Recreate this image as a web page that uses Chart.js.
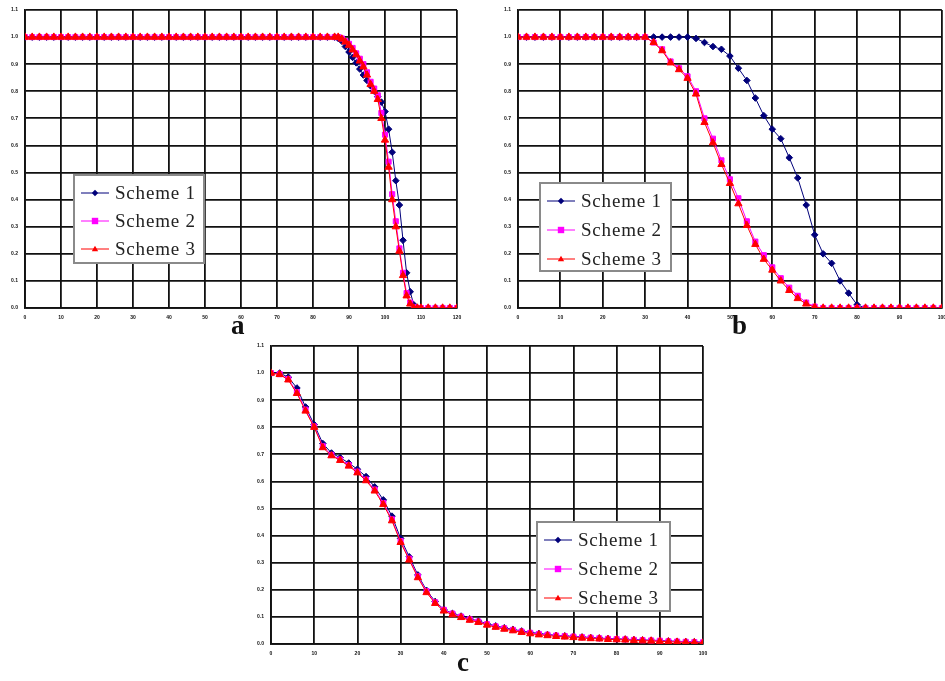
<!DOCTYPE html>
<html lang="en">
<head>
  <meta charset="UTF-8">
  <title>Scheme comparison</title>
  <script src="https://cdn.jsdelivr.net/npm/chart.js"></script>
  <style>
    body { margin: 0; background: white; width: 945px; height: 681px; overflow: hidden; position: relative; }
    .box { position: absolute; }
    .tag { position: absolute; font-family: 'Liberation Serif', serif; font-weight: bold; font-size: 27px; color: #111; }
  </style>
</head>
<body>
  <div class="box" style="left:0;top:0;width:470px;height:340px"><canvas id="chartA"></canvas></div>
  <div class="box" style="left:493px;top:0;width:460px;height:340px"><canvas id="chartB"></canvas></div>
  <div class="box" style="left:246px;top:336px;width:470px;height:345px"><canvas id="chartC"></canvas></div>
  <div class="tag" style="left:231px;top:310px">a</div>
  <div class="tag" style="left:732px;top:310px">b</div>
  <div class="tag" style="left:457px;top:647px">c</div>
  <script>
    const seriesNames = ['Scheme 1', 'Scheme 2', 'Scheme 3'];

    // chart a
    const aX = [0,2,4,6,8,10,12,14,16,18,20,22,24,26,28,30,32,34,36,38,40,42,44,46,48,50,52,54,56,58,60,62,64,66,68,70,72,74,76,78,80,82,84,
      86,87,88,89,90,91,92,93,94,95,96,97,98,99,100,101,102,103,104,105,106,107,108,109,110,
      112,114,116,118,120];
    const aS1 = [1,1,1,1,1,1,1,1,1,1,1,1,1,1,1,1,1,1,1,1,1,1,1,1,1,1,1,1,1,1,1,1,1,1,1,1,1,1,1,1,1,1,1,
      1,0.995,0.985,0.965,0.945,0.925,0.905,0.882,0.86,0.84,0.82,0.8,0.78,0.76,0.725,0.66,0.575,0.47,0.38,0.25,0.13,0.06,0.012,0,0,
      0,0,0,0,0];
    const aS2 = [1,1,1,1,1,1,1,1,1,1,1,1,1,1,1,1,1,1,1,1,1,1,1,1,1,1,1,1,1,1,1,1,1,1,1,1,1,1,1,1,1,1,1,
      1,1,0.995,0.985,0.975,0.96,0.94,0.92,0.9,0.87,0.835,0.81,0.785,0.72,0.64,0.54,0.42,0.32,0.22,0.13,0.055,0.02,0.003,0,0,
      0,0,0,0,0];
    const aS3 = [1,1,1,1,1,1,1,1,1,1,1,1,1,1,1,1,1,1,1,1,1,1,1,1,1,1,1,1,1,1,1,1,1,1,1,1,1,1,1,1,1,1,1,
      1,1,0.993,0.982,0.97,0.953,0.935,0.912,0.89,0.86,0.825,0.8,0.77,0.7,0.62,0.52,0.4,0.3,0.21,0.12,0.045,0.015,0,0,0,
      0,0,0,0,0];

    // chart b
    const bX = [0,2,4,6,8,10,12,14,16,18,20,22,24,26,28,30,32,34,36,38,40,42,44,46,48,50,52,54,56,58,60,62,64,66,68,70,72,74,76,78,80,82,84,86,88,90,92,94,96,98,100];
    const bS1 = [1,1,1,1,1,1,1,1,1,1,1,1,1,1,1,1,1,1,1,1,1,
      0.995,0.98,0.965,0.955,0.93,0.885,0.84,0.775,0.71,0.66,
      0.625,0.555,0.48,0.38,0.27,0.2,0.165,0.1,0.055,0.012,
      0,0,0,0,0,0,0,0,0,0];
    const bS2 = [1,1,1,1,1,1,1,1,1,1,1,1,1,1,1,1,
      0.98,0.955,0.91,0.885,0.855,0.8,0.7,0.625,0.545,0.475,
      0.405,0.32,0.245,0.195,0.15,0.11,0.075,0.045,0.02,0.005,
      0,0,0,0,0,0,0,0,0,0,0,0,0,0,0];
    const bS3 = [1,1,1,1,1,1,1,1,1,1,1,1,1,1,1,1,
      0.98,0.95,0.905,0.88,0.848,0.79,0.685,0.61,0.53,0.46,
      0.385,0.305,0.235,0.18,0.14,0.1,0.065,0.035,0.015,0.003,
      0,0,0,0,0,0,0,0,0,0,0,0,0,0,0];

    // chart c
    const cX = bX;
    const cS1 = [1,1,0.985,0.945,0.875,0.81,0.74,0.705,0.688,0.668,0.645,0.618,0.58,0.532,0.472,0.39,0.322,0.255,0.198,0.157,0.128,0.113,0.103,0.093,0.085,0.075,0.067,0.06,0.054,0.048,0.043,0.039,0.035,0.032,0.03,0.028,0.026,0.024,0.022,0.02,0.019,0.018,0.016,0.015,0.014,0.013,0.011,0.01,0.009,0.008,0.007];
    const cS2 = [1,0.996,0.978,0.93,0.865,0.803,0.73,0.698,0.681,0.66,0.636,0.607,0.57,0.52,0.46,0.38,0.315,0.25,0.195,0.154,0.126,0.112,0.101,0.091,0.083,0.073,0.065,0.058,0.052,0.046,0.041,0.037,0.034,0.031,0.029,0.027,0.025,0.023,0.021,0.019,0.018,0.017,0.015,0.014,0.013,0.012,0.01,0.009,0.008,0.007,0.006];
    const cS3 = [1,0.995,0.975,0.925,0.86,0.8,0.725,0.695,0.678,0.657,0.632,0.603,0.565,0.515,0.455,0.375,0.31,0.245,0.19,0.15,0.122,0.108,0.098,0.088,0.08,0.07,0.062,0.055,0.049,0.043,0.038,0.034,0.031,0.028,0.026,0.024,0.022,0.02,0.019,0.017,0.016,0.015,0.013,0.012,0.011,0.01,0.008,0.007,0.006,0.005,0.004];

    const styles = [
      { color: '#00007a', pointStyle: 'rectRot', radius: 3.3, order: 3 },
      { color: '#ff00ff', pointStyle: 'rect', radius: 3.6, order: 2 },
      { color: '#ff0000', pointStyle: 'triangle', radius: 4.2, order: 1 }
    ];

    function makeSets(xs, ys) {
      return ys.map((vals, i) => ({
        label: seriesNames[i],
        data: vals.map((v, k) => ({ x: xs[k], y: v })),
        borderColor: styles[i].color,
        backgroundColor: styles[i].color,
        pointStyle: styles[i].pointStyle,
        pointRadius: styles[i].radius,
        pointBorderWidth: 1,
        borderWidth: 1,
        order: styles[i].order
      }));
    }

    // draws the little boxed legend inside the plot
    const boxLegend = {
      id: 'boxLegend',
      afterDatasetsDraw(chart, args, opts) {
        const ctx = chart.ctx;
        const sets = chart.data.datasets;
        ctx.save();
        ctx.fillStyle = 'white';
        ctx.fillRect(opts.x, opts.y, opts.w, opts.h);
        ctx.strokeStyle = '#8a8a8a';
        ctx.lineWidth = 2;
        ctx.strokeRect(opts.x, opts.y, opts.w, opts.h);
        sets.forEach((ds, i) => {
          const cy = opts.y + opts.first + i * opts.gap;
          const lx = opts.x + 7;
          ctx.strokeStyle = ds.borderColor;
          ctx.lineWidth = 1;
          ctx.beginPath();
          ctx.moveTo(lx, cy);
          ctx.lineTo(lx + 28, cy);
          ctx.stroke();
          const mx = lx + 14, r = 3.2;
          ctx.fillStyle = ds.backgroundColor;
          ctx.beginPath();
          if (ds.pointStyle === 'rectRot') {
            ctx.moveTo(mx, cy - r); ctx.lineTo(mx + r, cy); ctx.lineTo(mx, cy + r); ctx.lineTo(mx - r, cy);
          } else if (ds.pointStyle === 'rect') {
            ctx.rect(mx - r, cy - r, 2 * r, 2 * r);
          } else {
            ctx.moveTo(mx, cy - r); ctx.lineTo(mx + r, cy + r * 0.7); ctx.lineTo(mx - r, cy + r * 0.7);
          }
          ctx.closePath();
          ctx.fill();
          ctx.fillStyle = '#222';
          ctx.font = '19px "Liberation Serif", serif';
          ctx.letterSpacing = '0.8px';
          ctx.textBaseline = 'middle';
          ctx.fillText(ds.label, lx + 34, cy + 1);
        });
        ctx.restore();
      }
    };

    function makeChart(id, xs, ys, xMax, pad, legend) {
      new Chart(document.getElementById(id), {
        type: 'line',
        data: { datasets: makeSets(xs, ys) },
        plugins: [boxLegend],
        options: {
          responsive: true,
          maintainAspectRatio: false,
          animation: false,
          layout: { padding: pad },
          plugins: {
            legend: { display: false },
            tooltip: { enabled: false },
            boxLegend: legend
          },
          scales: {
            x: {
              type: 'linear',
              min: 0,
              max: xMax,
              afterFit: s => { s.height = 20; },
              ticks: { stepSize: 10, color: '#111', padding: 7, maxRotation: 0, font: { size: 5, weight: 'bold' } },
              grid: { color: '#111', lineWidth: 1.8, drawTicks: false },
              border: { color: '#111', width: 1.8 }
            },
            y: {
              min: 0,
              max: 1.1,
              afterFit: s => { s.width = 25; },
              ticks: {
                stepSize: 0.1, color: '#111', padding: 7, font: { size: 5, weight: 'bold' },
                callback: v => v.toFixed(1)
              },
              grid: { color: '#111', lineWidth: 1.8, drawTicks: false },
              border: { color: '#111', width: 1.8 }
            }
          }
        }
      });
    }

    makeChart('chartA', aX, [aS1, aS2, aS3], 120,
      { top: 7, right: 13, bottom: 12, left: 0 },
      { x: 74, y: 175, w: 130, h: 88, first: 18, gap: 28 });
    makeChart('chartB', bX, [bS1, bS2, bS3], 100,
      { top: 7, right: 5, bottom: 12, left: 0 },
      { x: 47, y: 183, w: 131, h: 88, first: 18, gap: 29 });
    makeChart('chartC', cX, [cS1, cS2, cS3], 100,
      { top: 7, right: 13, bottom: 17, left: 0 },
      { x: 291, y: 186, w: 133, h: 89, first: 18, gap: 29 });
  </script>
</body>
</html>
